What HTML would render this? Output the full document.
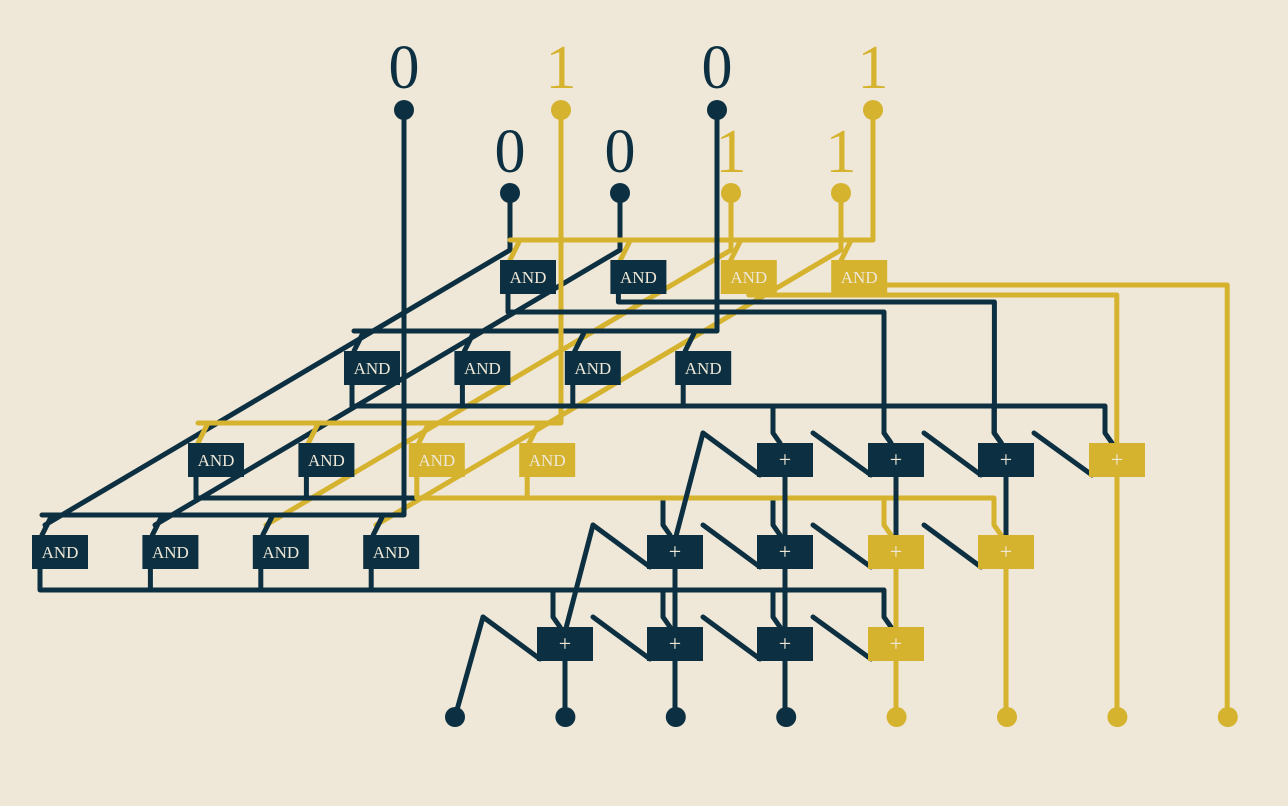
<!DOCTYPE html>
<html><head><meta charset="utf-8"><style>
html,body{margin:0;padding:0;background:#efe7d7;}
svg{display:block}
text{font-family:"Liberation Serif",serif;}
</style></head><body>
<svg id="c" width="1288" height="806" viewBox="0 0 1288 806" xmlns="http://www.w3.org/2000/svg">
<rect width="1288" height="806" fill="#efe7d7"/>
<g id="wires" fill="none" stroke-width="5" stroke-linejoin="round" stroke-linecap="round"></g>
<g id="parts"></g>
</svg>
<script>
const aBits=[0,1,0,1];      // top row inputs, left to right
const bBits=[0,0,1,1];      // second row inputs, left to right
const outBits=[0,0,0,0,1,1,1,1];
const D="#0c3041",Y="#d5b32f";
const NS="http://www.w3.org/2000/svg";
const W=document.getElementById('wires'),P=document.getElementById('parts');
function col(b){return b?Y:D;}
function line(pts,c,name){const e=document.createElementNS(NS,'polyline');e.setAttribute('points',pts.map(p=>p.join(',')).join(' '));e.setAttribute('stroke',c);


W.appendChild(e);}
function dot(x,y,c,name){const e=document.createElementNS(NS,'circle');e.setAttribute('cx',x);e.setAttribute('cy',y);e.setAttribute('r',10);e.setAttribute('fill',c);


P.appendChild(e);}
function txt(x,y,s,sz,c,name){const e=document.createElementNS(NS,'text');e.setAttribute('x',x);e.setAttribute('y',y);e.setAttribute('font-size',sz);e.setAttribute('fill',c);e.setAttribute('text-anchor','middle');e.textContent=s;


P.appendChild(e);return e;}
function gate(x,y,c,label,name){const g=document.createElementNS(NS,'g');


const r=document.createElementNS(NS,'rect');r.setAttribute('x',x-28);r.setAttribute('y',y-17);r.setAttribute('width',56);r.setAttribute('height',34);r.setAttribute('fill',c);g.appendChild(r);
const t=document.createElementNS(NS,'text');t.setAttribute('x',x);t.setAttribute('y',y+(label=='+'?7:6));t.setAttribute('font-size',label=='+'?22:17);t.setAttribute('fill','#efe7d7');t.setAttribute('text-anchor','middle');t.textContent=label;g.appendChild(t);
P.appendChild(g);}
const aX=[404,561,717,873],bX=[510,620,731,841];
const rowY=[277,368,460,552];
const sp=110.4;
aBits.forEach((b,i)=>{dot(aX[i],110,col(b),'input-a'+i);txt(aX[i],88,String(b),62,col(b),'input-a'+i+'-label');});
bBits.forEach((b,i)=>{dot(bX[i],193,col(b),'input-b'+i);txt(bX[i],172,String(b),62,col(b),'input-b'+i+'-label');});
bBits.forEach((b,i)=>{const x0=bX[i];line([[x0,193],[x0,250],[x0-465,525]],col(b),'b-diagonal-'+i);});
for(let r=0;r<4;r++){const ai=3-r;const c=col(aBits[ai]);const by=rowY[r]-37;const gx0=528-156*r;
 line([[aX[ai],110],[aX[ai],by],[gx0-18,by]],c,'a-bus-'+r);
 for(let k=0;k<4;k++){const gx=gx0+sp*k;line([[gx-8,by],[gx-18,rowY[r]-17]],c,'bus-tap-'+r+'-'+k);}
}
const addRows=[[460,[785,896,1006,1117]],[552,[675,785,896,1006]],[644,[565,675,785,896]]];
const addBits=[[0,0,0,1],[0,0,1,1],[0,0,0,1]];
const row0Y=[312,302,295,285];
for(let r=0;r<4;r++){const gx0=528-156*r;
 for(let k=0;k<4;k++){const gx=gx0+sp*k;const c=col(aBits[3-r]&bBits[k]);
  let tx,ty,yy;
  if(r==0){tx=896+sp*k;ty=k==3?717:443;yy=row0Y[k];
   if(k>=2){line([[gx,rowY[r]+17],[gx,yy],[tx,yy],[tx,ty]],c,'gate-out-'+r+'-'+k);continue;}}
  else{tx=addRows[r-1][1][k];ty=addRows[r-1][0]-17;yy=rowY[r]+38;}
  line([[gx-20,rowY[r]+17],[gx-20,yy],[tx-12,yy],[tx-12,ty-10],[tx-5,ty]],c,'gate-out-'+r+'-'+k);
 }}
addRows.forEach(([y,xs],ri)=>{
 xs.forEach((x,k)=>{
  const c=col(addBits[ri][k]);
  const px=k==0?x-82:xs[k-1]+28;
  line([[px,y-27],[x-25,y+15]],D,'carry-'+ri+'-'+k);
  const ny=ri<2?addRows[ri+1][0]-17:717;
  line([[x,y],[x,ri==2||k==3?717:ny]],c,'sum-'+ri+'-'+k);
 });
 const x0=xs[0];
 line([[x0-82,y-27],[x0-110,ri==2?717:y+80]],D,'carry-in-'+ri);
});
addRows.forEach(([y,xs],ri)=>xs.forEach((x,k)=>gate(x,y,col(addBits[ri][k]),'+','adder-'+ri+'-'+k)));
for(let r=0;r<4;r++){const gx0=528-156*r;for(let k=0;k<4;k++)gate(gx0+sp*k,rowY[r],col(aBits[3-r]&bBits[k]),'AND','and-gate-'+r+'-'+k);}
outBits.forEach((b,i)=>dot(455+sp*i,717,col(b),'output-'+i));
</script>
</body></html>
